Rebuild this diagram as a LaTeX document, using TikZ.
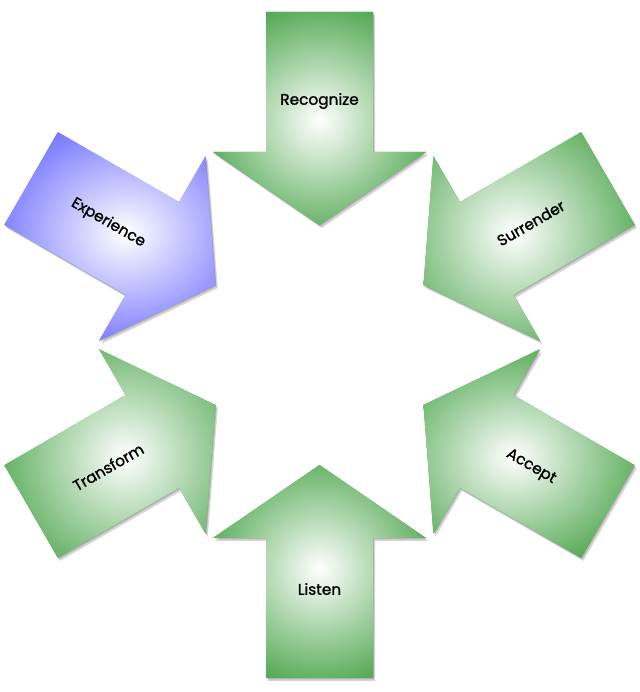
\documentclass[tikz,border=0pt]{standalone}
\usepackage{fontspec}
\setmainfont[FakeBold=1.2]{Poppins}
\usetikzlibrary{calc}
\definecolor{armgreen}{HTML}{3E9E3E}
\definecolor{armblue}{HTML}{6464FF}
\tikzset{
  armlabel/.style={text=black,inner sep=0pt,font=\fontsize{11.5}{13}\selectfont}
}
\begin{document}
\begin{tikzpicture}[x=.75pt,y=.75pt]
    \useasboundingbox (0,0) rectangle (639,692);
    \coordinate (hub) at (319.5,347);
    \foreach \ang/\name/\txt/\rot/\col in {90/recognize/Recognize/0/armgreen,
      30/surrender/Surrender/30/armgreen,-30/accept/Accept/-30/armgreen,
      -90/listen/Listen/0/armgreen,210/transform/Transform/30/armgreen,
      150/experience/Experience/-30/armblue}{
      % soft shadow
      \foreach \dd in {1,2.2}
        \fill[black,opacity=.16,shift={($(hub)+(\dd,-1.4*\dd)$)},rotate=\ang]
          (120,0) -- (193,106.5) -- (193,53.5) -- (333,53.5)
          -- (333,-53.5) -- (193,-53.5) -- (193,-106.5) -- cycle;
      \begin{scope}[shift={(hub)},rotate=\ang]
        \fill[\col] (120,0) -- (193,106.5) -- (193,53.5) -- (333,53.5)
          -- (333,-53.5) -- (193,-53.5) -- (193,-106.5) -- cycle;
        \clip (120,0) -- (193,106.5) -- (193,53.5) -- (333,53.5)
          -- (333,-53.5) -- (193,-53.5) -- (193,-106.5) -- cycle;
        \shade[inner color=white,outer color=\col] (224,0) circle (135);
      \end{scope}
      \node[armlabel,rotate=\rot] (\name) at ($(hub)+(\ang:244)$) {\txt};
    }
  \end{tikzpicture}
\end{document}
